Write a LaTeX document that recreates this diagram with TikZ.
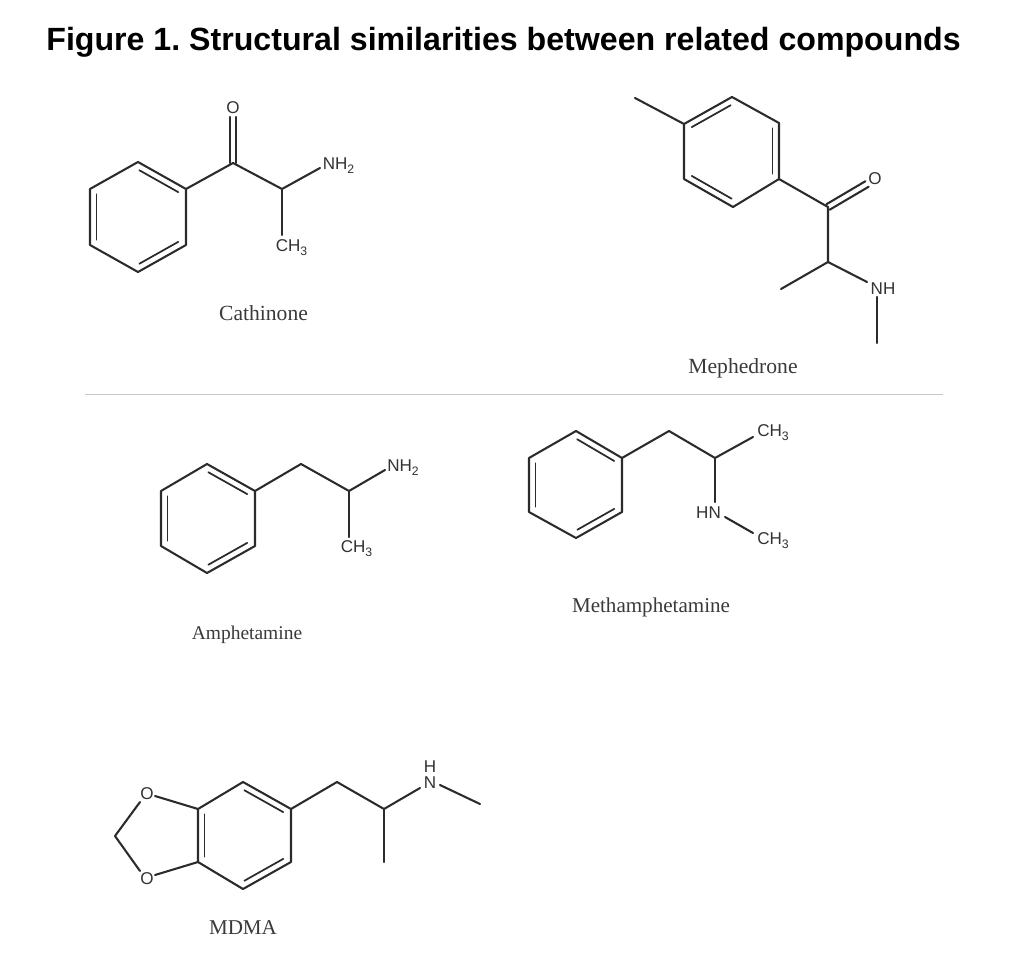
\documentclass[tikz,border=0pt]{standalone}
\usepackage{fontspec}
\setmainfont{Liberation Serif}
\newfontfamily\atomfont{Liberation Sans}
\newfontfamily\titlefont{Liberation Sans}
\usetikzlibrary{calc}
\frenchspacing
\definecolor{bondcol}{HTML}{2B2B2B}
\definecolor{atomcol}{HTML}{333333}
\definecolor{namecol}{HTML}{3A3A3A}
\tikzset{
  bond/.style={draw=bondcol,line width=1.55pt,line cap=round,line join=round},
  innerbond/.style={draw=bondcol,line width=1.3pt,line cap=round},
  atom/.style={inner sep=0pt,yshift=-0.6pt,text=atomcol,font=\atomfont\fontsize{12.8}{15}\selectfont},
  compound/.style={inner sep=0pt,text=namecol,font=\fontsize{16.2}{19}\selectfont},
  titletext/.style={inner sep=0pt,text=black,font=\titlefont\bfseries\fontsize{24.1}{29}\selectfont},
  divider/.style={draw=black!22,line width=0.7pt}
}
% inner line of an aromatic double bond; a -> b runs clockwise round the ring
\newcommand{\dblin}[2]{%
  \draw[innerbond,shorten <=3.9pt,shorten >=3.9pt]
    ($(#1)!4.9pt!-90:(#2)$) -- ($(#2)!4.9pt!90:(#1)$);}
% symmetric C=O double bond
\newcommand{\dblco}[2]{%
  \draw[bond] ($(#1)!2.4pt!90:(#2)$) -- ($(#2)!2.4pt!-90:(#1)$);
  \draw[bond] ($(#1)!2.4pt!-90:(#2)$) -- ($(#2)!2.4pt!90:(#1)$);}
\newcommand{\sbs}[1]{\raisebox{-2.6pt}{\fontsize{9.2}{10}\selectfont #1}}
\begin{document}
\begin{tikzpicture}[x=0.75pt,y=-0.75pt]
\useasboundingbox (0,0) rectangle (1024,962);
\fill[white] (0,0) rectangle (1024,962);

\node[titletext] (title) at (503.5,42) {Figure 1. Structural similarities between related compounds};

% ---------- Cathinone
\coordinate (ca1) at (138,162);
\coordinate (ca2) at (186,189);
\coordinate (ca3) at (186,245);
\coordinate (ca4) at (138,272);
\coordinate (ca5) at (90,245);
\coordinate (ca6) at (90,189);
\coordinate (caC) at (233,163);
\coordinate (caOe) at (233,117);
\coordinate (caH) at (282,189);
\coordinate (caNe) at (320,168);
\coordinate (caMe) at (282,235);
\draw[bond] (ca1)--(ca2)--(ca3)--(ca4)--(ca5)--(ca6)--cycle;
\dblin{ca1}{ca2}\dblin{ca3}{ca4}\dblin{ca5}{ca6}
\draw[bond] (ca2)--(caC)--(caH)--(caNe);
\draw[bond] (caH)--(caMe);
\dblco{caC}{caOe}
\node[atom] (caO) at (233,107) {O};
\node[atom,anchor=west] (caN) at (322.5,165) {NH\sbs{2}};
\node[atom,anchor=west] (caM) at (275.5,247) {CH\sbs{3}};
\node[compound] (caName) at (263.5,313) {Cathinone};

% ---------- Mephedrone
\coordinate (me1) at (732,97);
\coordinate (me2) at (779,123);
\coordinate (me3) at (779,179);
\coordinate (me4) at (733,207);
\coordinate (me5) at (684,179);
\coordinate (me6) at (684,124);
\coordinate (meTol) at (635,98);
\coordinate (meC) at (828,207);
\coordinate (meOe) at (867,184);
\coordinate (meH) at (828,262);
\coordinate (meMe) at (781,289);
\coordinate (meNa) at (867,282);
\coordinate (meNb) at (877,297);
\coordinate (meNc) at (877,343);
\draw[bond] (me1)--(me2)--(me3)--(me4)--(me5)--(me6)--cycle;
\dblin{me6}{me1}\dblin{me2}{me3}\dblin{me4}{me5}
\draw[bond] (me6)--(meTol);
\draw[bond] (me3)--(meC)--(meH)--(meNa);
\draw[bond] (meH)--(meMe);
\draw[bond] (meNb)--(meNc);
\dblco{meC}{meOe}
\node[atom] (meO) at (875,178) {O};
\node[atom] (meN) at (883,288) {NH};
\node[compound] (meName) at (743,368) {Mephedrone};

% ---------- divider
\coordinate (divL) at (85,394.5);
\coordinate (divR) at (943,394.5);
\draw[divider] (divL)--(divR);

% ---------- Amphetamine
\coordinate (am1) at (207,464);
\coordinate (am2) at (255,491);
\coordinate (am3) at (255,546);
\coordinate (am4) at (207,573);
\coordinate (am5) at (161,546);
\coordinate (am6) at (161,491);
\coordinate (amC) at (301,464);
\coordinate (amH) at (349,491);
\coordinate (amNe) at (385,470);
\coordinate (amMe) at (349,537);
\draw[bond] (am1)--(am2)--(am3)--(am4)--(am5)--(am6)--cycle;
\dblin{am1}{am2}\dblin{am3}{am4}\dblin{am5}{am6}
\draw[bond] (am2)--(amC)--(amH)--(amNe);
\draw[bond] (amH)--(amMe);
\node[atom,anchor=west] (amN) at (387,467) {NH\sbs{2}};
\node[atom,anchor=west] (amM) at (340.5,548) {CH\sbs{3}};
\node[compound,font=\fontsize{14.6}{18}\selectfont] (amName) at (247,635) {Amphetamine};

% ---------- Methamphetamine
\coordinate (mt1) at (576,431);
\coordinate (mt2) at (622,458);
\coordinate (mt3) at (622,512);
\coordinate (mt4) at (576,538);
\coordinate (mt5) at (529,512);
\coordinate (mt6) at (529,458);
\coordinate (mtC) at (669,431);
\coordinate (mtH) at (715,458);
\coordinate (mtMe) at (753,437);
\coordinate (mtNa) at (715,502);
\coordinate (mtNb) at (725,517);
\coordinate (mtNc) at (753,533);
\draw[bond] (mt1)--(mt2)--(mt3)--(mt4)--(mt5)--(mt6)--cycle;
\dblin{mt1}{mt2}\dblin{mt3}{mt4}\dblin{mt5}{mt6}
\draw[bond] (mt2)--(mtC)--(mtH)--(mtMe);
\draw[bond] (mtH)--(mtNa);
\draw[bond] (mtNb)--(mtNc);
\node[atom,anchor=west] (mtM1) at (757,432) {CH\sbs{3}};
\node[atom] (mtN) at (708.5,512) {HN};
\node[atom,anchor=west] (mtM2) at (757,540) {CH\sbs{3}};
\node[compound,font=\fontsize{15.8}{19}\selectfont] (mtName) at (651,607) {Methamphetamine};

% ---------- MDMA
\coordinate (md1) at (243,782);
\coordinate (md2) at (291,809);
\coordinate (md3) at (291,862);
\coordinate (md4) at (243,889);
\coordinate (md5) at (198,862);
\coordinate (md6) at (198,809);
\coordinate (mdO1a) at (155,796);
\coordinate (mdO1b) at (140,802);
\coordinate (mdO2a) at (155,875);
\coordinate (mdO2b) at (140,871);
\coordinate (mdCH) at (115,836);
\coordinate (mdC) at (337,782);
\coordinate (mdH) at (384,809);
\coordinate (mdMe) at (384,862);
\coordinate (mdNa) at (420,788);
\coordinate (mdNb) at (440,785);
\coordinate (mdNc) at (480,804);
\draw[bond] (md1)--(md2)--(md3)--(md4)--(md5)--(md6)--cycle;
\dblin{md1}{md2}\dblin{md3}{md4}\dblin{md5}{md6}
\draw[bond] (md6)--(mdO1a);
\draw[bond] (md5)--(mdO2a);
\draw[bond] (mdO1b)--(mdCH)--(mdO2b);
\draw[bond] (md2)--(mdC)--(mdH)--(mdNa);
\draw[bond] (mdH)--(mdMe);
\draw[bond] (mdNb)--(mdNc);
\node[atom] (mdO1) at (147,793) {O};
\node[atom] (mdO2) at (147,878) {O};
\node[atom] (mdN) at (430,782) {N};
\node[atom] (mdNH) at (430,766) {H};
\node[compound,font=\fontsize{15.8}{19}\selectfont] (mdName) at (243,928) {MDMA};
\end{tikzpicture}
\end{document}
